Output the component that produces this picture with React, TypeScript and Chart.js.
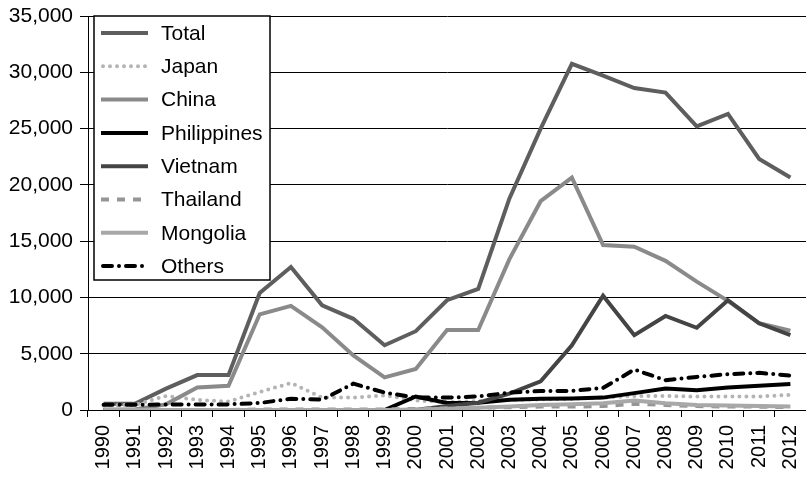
import React, { useEffect, useRef } from 'react';
import Chart from 'chart.js/auto';

const years = ['1990', '1991', '1992', '1993', '1994', '1995', '1996', '1997', '1998', '1999', '2000', '2001', '2002', '2003', '2004', '2005', '2006', '2007', '2008', '2009', '2010', '2011', '2012'];
const total = [550, 550, 1900, 3100, 3100, 10400, 12700, 9300, 8100, 5750, 7000, 9750, 10750, 18800, 25000, 30750, 29700, 28600, 28200, 25200, 26300, 22300, 20650];
const japan = [400, 450, 1250, 900, 750, 1600, 2400, 1100, 1100, 1300, 850, 700, 800, 900, 950, 1000, 1100, 1250, 1250, 1200, 1200, 1200, 1350];
const china = [50, 50, 500, 2000, 2150, 8500, 9250, 7350, 4850, 2900, 3650, 7100, 7100, 13400, 18550, 20650, 14650, 14500, 13250, 11400, 9700, 7700, 7050];
const philippines = [0, 0, 0, 0, 0, 0, 0, 0, 0, 0, 1200, 620, 650, 920, 1000, 1020, 1100, 1500, 1900, 1750, 2000, 2150, 2300];
const vietnam = [0, 0, 0, 0, 0, 0, 0, 0, 0, 0, 0, 350, 650, 1450, 2550, 5750, 10150, 6650, 8350, 7300, 9750, 7700, 6650];
const thailand = [0, 0, 0, 0, 0, 50, 50, 50, 50, 50, 100, 150, 200, 250, 300, 300, 350, 550, 450, 350, 300, 300, 250];
const mongolia = [0, 0, 0, 0, 0, 0, 0, 0, 0, 0, 50, 100, 200, 300, 450, 500, 600, 850, 600, 450, 400, 350, 300];
const others = [470, 470, 480, 480, 500, 620, 1000, 920, 2340, 1550, 1100, 1100, 1200, 1540, 1690, 1700, 1960, 3590, 2650, 2940, 3180, 3300, 3060];

const yTicks = [0, 5000, 10000, 15000, 20000, 25000, 30000, 35000];

const FONT = '"Liberation Sans", Arial, sans-serif';

const boxLegend = {
  id: 'boxLegend',
  afterDraw(chart: any) {
    const ctx = chart.ctx;
    const area = chart.chartArea;
    const x0 = area.left + 6;
    const y0 = area.top;
    const w = 176;
    const h = 264;
    ctx.save();
    ctx.fillStyle = '#ffffff';
    ctx.fillRect(x0, y0, w, h);
    ctx.strokeStyle = '#000000';
    ctx.lineWidth = 1.5;
    ctx.setLineDash([]);
    ctx.strokeRect(x0, y0, w, h);
    chart.data.datasets.forEach((ds: any, i: number) => {
      const y = y0 + 17 + i * 33.3;
      ctx.beginPath();
      ctx.setLineDash(ds.borderDash || []);
      ctx.lineCap = ds.borderCapStyle || 'butt';
      ctx.strokeStyle = ds.borderColor;
      ctx.lineWidth = ds.borderWidth;
      const isRound = ds.borderCapStyle === 'round';
      ctx.moveTo(x0 + (isRound ? 9 : 7), y);
      ctx.lineTo(x0 + (isRound ? 52 : 54), y);
      ctx.stroke();
      ctx.setLineDash([]);
      ctx.fillStyle = '#000000';
      ctx.font = '21px ' + FONT;
      ctx.textBaseline = 'middle';
      ctx.textAlign = 'left';
      ctx.fillText(ds.label, x0 + 67, y + 1);
    });
    ctx.restore();
  },
};

export default function App() {
  const canvasRef = useRef<HTMLCanvasElement | null>(null);

  useEffect(() => {
    const canvas = canvasRef.current;
    if (!canvas) return;
    const mk = (label: string, data: number[], color: string, order: number, extra: any = {}) => ({
      label,
      data,
      borderColor: color,
      backgroundColor: color,
      borderWidth: 4,
      pointRadius: 0,
      tension: 0,
      fill: false,
      order,
      borderCapStyle: 'butt',
      borderJoinStyle: 'miter',
      ...extra,
    });
    const chart = new Chart(canvas, {
      type: 'line',
      data: {
        labels: years,
        datasets: [
          mk('Total', total, '#5e5e5e', 8),
          mk('Japan', japan, '#b4b4b4', 7, { borderDash: [0, 7], borderCapStyle: 'round' }),
          mk('China', china, '#8a8a8a', 6),
          mk('Philippines', philippines, '#000000', 5),
          mk('Vietnam', vietnam, '#444444', 4),
          mk('Thailand', thailand, '#969696', 3, { borderDash: [8, 8] }),
          mk('Mongolia', mongolia, '#a8a8a8', 2),
          mk('Others', others, '#000000', 1, { borderDash: [9, 7, 0, 7], borderCapStyle: 'round' }),
        ],
      },
      options: {
        animation: false,
        responsive: false,
        maintainAspectRatio: false,
        events: [],
        layout: { padding: { top: 16, left: 0, right: 0, bottom: 0 } },
        plugins: {
          legend: { display: false },
          tooltip: { enabled: false },
        },
        scales: {
          x: {
            type: 'category',
            offset: true,
            grid: {
              offset: true,
              drawOnChartArea: false,
              drawTicks: true,
              tickLength: 7,
              color: '#000000',
              lineWidth: 1,
            },
            border: { display: true, color: '#000000', width: 1 },
            ticks: {
              autoSkip: false,
              minRotation: 90,
              maxRotation: 90,
              padding: 8,
              color: '#000000',
              font: { family: FONT, size: 20 },
            },
            afterFit: (scale: any) => {
              scale.height = 67;
              scale.paddingLeft = 0;
              scale.paddingRight = 0;
            },
          },
          y: {
            min: 0,
            max: 35000,
            afterBuildTicks: (scale: any) => {
              scale.ticks = yTicks.map((v) => ({ value: v }));
            },
            grid: {
              color: '#000000',
              lineWidth: 1,
              drawTicks: true,
              tickLength: 8,
            },
            border: { display: true, color: '#000000', width: 1 },
            ticks: {
              padding: 7,
              color: '#000000',
              font: { family: FONT, size: 21 },
              callback: (v: any) => Number(v).toLocaleString('en-US'),
            },
            afterFit: (scale: any) => {
              scale.width = 88;
              scale.paddingTop = 0;
              scale.paddingBottom = 0;
            },
          },
        },
      },
      plugins: [boxLegend],
    });
    return () => chart.destroy();
  }, []);

  return (
    <div style={{ position: 'fixed', left: 0, top: 0, width: 806, height: 477, background: '#ffffff' }}>
      <canvas ref={canvasRef} width={806} height={477} style={{ display: 'block' }} />
    </div>
  );
}
